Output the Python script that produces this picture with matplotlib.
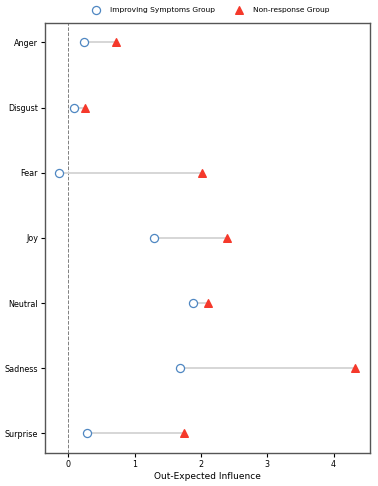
import matplotlib
matplotlib.use('Agg')
import matplotlib.pyplot as plt

emotions = ['Anger', 'Disgust', 'Fear', 'Joy', 'Neutral', 'Sadness', 'Surprise']
improving = [0.24, 0.09, -0.14, 1.30, 1.88, 1.69, 0.29]
non_response = [0.72, 0.25, 2.02, 2.40, 2.11, 4.32, 1.75]

fig = plt.figure(figsize=(3.78, 4.86), dpi=100)
ax = fig.add_axes([0.119, 0.068, 0.860, 0.885])

ypos = list(range(len(emotions)))
for y, a, b in zip(ypos, improving, non_response):
    ax.plot([a, b], [y, y], color='#d3d3d3', lw=1.3, zorder=1)

ax.scatter(improving, ypos, s=34, facecolors='white', edgecolors='#4f87c2',
           linewidths=0.9, zorder=3, label='Improving Symptoms Group')
ax.scatter(non_response, ypos, s=30, marker='^', color='#f5392b',
           zorder=3, label='Non-response Group')

ax.axvline(0, color='gray', ls='--', lw=0.7, zorder=0)

ax.set_yticks(ypos)
ax.set_yticklabels(emotions)
ax.set_ylim(6.3, -0.3)
ax.set_xlim(-0.35, 4.55)
ax.set_xticks([0, 1, 2, 3, 4])
ax.tick_params(labelsize=5.8, width=0.8, length=3, pad=2)
ax.set_xlabel('Out-Expected Influence', fontsize=6.5, labelpad=2)
for sp in ax.spines.values():
    sp.set_color('#555555')
    sp.set_linewidth(1.0)

ax.legend(loc='lower center', bbox_to_anchor=(0.505, 1.01), ncol=2, frameon=False,
          fontsize=5.4, columnspacing=2.2, handletextpad=0.9, borderaxespad=0.3)

fig.savefig('out.png', dpi=100)
